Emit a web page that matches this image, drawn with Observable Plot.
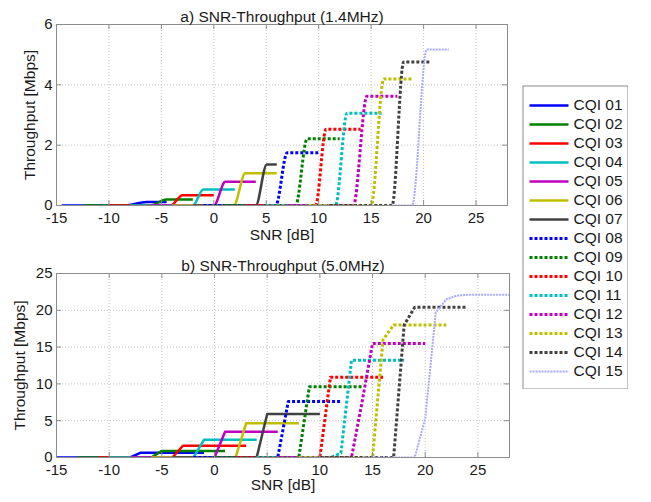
<!DOCTYPE html>
<html><head><meta charset="utf-8">
<script src="https://cdn.jsdelivr.net/npm/d3@7"></script>
<script src="https://cdn.jsdelivr.net/npm/@observablehq/plot@0.6"></script>
<style>
html,body{margin:0;padding:0;background:#fff;}
body{width:651px;height:502px;position:relative;overflow:hidden;font-family:"Liberation Sans",Arial,sans-serif;}
#top,#bot,#leg{position:absolute;}
#top{left:0;top:0}
#bot{left:0;top:248px}
#leg{left:522px;top:85px}
</style></head><body>
<div id="top"></div><div id="bot"></div><div id="leg"></div>
<script>
const cqiNames = ["CQI 01","CQI 02","CQI 03","CQI 04","CQI 05","CQI 06","CQI 07","CQI 08","CQI 09","CQI 10","CQI 11","CQI 12","CQI 13","CQI 14","CQI 15"];
const cqiColors = ["#0000ff","#008000","#ff0000","#00bfbf","#bf00bf","#bfbf00","#404040","#0000ff","#008000","#ff0000","#00bfbf","#bf00bf","#bfbf00","#404040","#a8a8ff"];
const xTicks = [-15,-10,-5,0,5,10,15,20,25];
const yTicks14 = [0,2,4,6];
const yTicks50 = [0,5,10,15,20,25];
const titles = ["a) SNR-Throughput (1.4MHz)", "b) SNR-Throughput (5.0MHz)"];
const xLabel = "SNR [dB]";
const yLabel = "Throughput [Mbps]";

// 1.4 MHz: SNR [dB] points and throughput [Mbps] per CQI
const snr14 = [
  [-14.5,-8.5,-6.4,-4.5],
  [-12.5,-6.1,-4.5,-2],
  [-10,-4.1,-3,0],
  [-8,-2,-1,2],
  [-6,0,1.1,4],
  [-4,1.9,3,6],
  [-2,4,5.05,6],
  [-1,5.9,7,10],
  [1,7.8,8.9,12],
  [3,9.7,10.7,14],
  [5,11.6,12.7,16],
  [7,13.3,14.6,17.5],
  [9,15,16.2,19],
  [11,17,18.1,20.7],
  [17,18.9,20.3,22.4]
];
const thr14 = [
  [0,0,0.12,0.12],
  [0,0,0.2,0.2],
  [0,0,0.34,0.34],
  [0,0,0.53,0.53],
  [0,0,0.79,0.79],
  [0,0,1.07,1.07],
  [0,0,1.36,1.36],
  [0,0,1.75,1.75],
  [0,0,2.21,2.21],
  [0,0,2.53,2.53],
  [0,0,3.06,3.06],
  [0,0,3.62,3.62],
  [0,0,4.19,4.19],
  [0,0,4.76,4.76],
  [0,0,5.17,5.17]
];

// 5.0 MHz
const snr50 = [
  [-15,-8,-7,-1],
  [-13,-6,-5,1],
  [-11,-4,-3,3],
  [-10,-2,-1,4],
  [-8,0,1,6],
  [-6,2,3,8],
  [-4,4,5,10],
  [-2,6,7,12],
  [0,8,9,14],
  [2,10,11,16],
  [4,11,12,13,18],
  [6,13,14,15,20],
  [8,15,16,17,22],
  [10,17,18,19,24],
  [14,19,20,21,22,23,24,28]
];
const thr50 = [
  [0,0,0.65,0.65],
  [0,0,0.9,0.9],
  [0,0,1.6,1.6],
  [0,0,2.4,2.4],
  [0,0,3.5,3.5],
  [0,0,4.65,4.65],
  [0,0,5.9,5.9],
  [0,0,7.6,7.6],
  [0,0,9.6,9.6],
  [0,0,10.9,10.9],
  [0,0,0.6,13.2,13.2],
  [0,0,7.5,15.5,15.5],
  [0,0,16,18,18],
  [0,0,18,20.4,20.4],
  [0,0,5.3,19.7,21.5,22,22.1,22.1]
];

const FONT = '"Liberation Sans", Arial, Helvetica, sans-serif';
const AX = "#8c8c8c";
const styles = [
  {strokeWidth: 2.5, strokeLinecap: "butt"},
  {strokeWidth: 3, strokeDasharray: "3,2", strokeLinecap: "butt"},
  {strokeWidth: 2, strokeDasharray: "2,1", strokeLinecap: "butt"}
];
const groupOf = i => i < 7 ? 0 : (i < 14 ? 1 : 2);

function makeChart(snr, thr, yDomain, yTicks, title, o) {
  const rows = [];
  snr.forEach((xs, i) => xs.forEach((x, j) => rows.push({cqi: cqiNames[i], idx: i, snr: x, thr: thr[i][j]})));
  const ih = o.height - o.mt - o.mb, iw = o.width - o.ml - o.mr;
  const lines = [0,1,2].map(g => Plot.line(rows.filter(d => groupOf(d.idx) === g),
    {x: "snr", y: "thr", z: "cqi", stroke: "cqi", curve: o.curve, clip: true, ...styles[g]}));
  return Plot.plot({
    width: o.width, height: o.height,
    marginTop: o.mt, marginBottom: o.mb, marginLeft: o.ml, marginRight: o.mr,
    style: {fontFamily: FONT, fontSize: "15px", color: "#1a1a1a", background: "#fff", overflow: "visible"},
    x: {domain: [-15, 28]},
    y: {domain: yDomain},
    color: {type: "ordinal", domain: cqiNames, range: cqiColors},
    marks: [
      Plot.gridX(xTicks, {stroke: "#c4c4c4", strokeOpacity: 1, strokeDasharray: "1,2"}),
      Plot.gridY(yTicks, {stroke: "#c4c4c4", strokeOpacity: 1, strokeDasharray: "1,2"}),
      ...lines,
      Plot.frame({stroke: AX}),
      Plot.ruleX(xTicks, {stroke: AX, insetTop: ih - 5}),
      Plot.ruleX(xTicks, {stroke: AX, insetBottom: ih - 5}),
      Plot.ruleY(yTicks, {stroke: AX, insetRight: iw - 5}),
      Plot.ruleY(yTicks, {stroke: AX, insetLeft: iw - 5}),
      Plot.axisX(xTicks, {tickSize: 0, tickPadding: 7, label: null, tickFormat: d => String(d)}),
      Plot.axisY(yTicks, {tickSize: 0, tickPadding: 4, label: null, tickFormat: d => String(d)}),
      Plot.text([title], {text: d => d, frameAnchor: "top", dy: -14, fontSize: 15.5}),
      Plot.text([xLabel], {text: d => d, frameAnchor: "bottom", dy: o.xlabDy, fontSize: 15.5}),
      Plot.text([yLabel], {text: d => d, frameAnchor: "left", textAnchor: "middle", rotate: -90, dx: o.ylabDx, fontSize: 15.5})
    ]
  });
}

document.getElementById("top").append(makeChart(snr14, thr14, [0, 6], yTicks14, titles[0],
  {width: 520, height: 250, mt: 24, mb: 45, ml: 56, mr: 13, curve: "monotone-x", xlabDy: 34, ylabDx: -26}));
document.getElementById("bot").append(makeChart(snr50, thr50, [0, 25], yTicks50, titles[1],
  {width: 520, height: 254, mt: 25, mb: 45, ml: 56, mr: 11, curve: "linear", xlabDy: 32, ylabDx: -36}));

const legendMarks = [0,1,2].map(g => Plot.link(cqiNames.filter((d, i) => groupOf(i) === g),
  {x1: () => 0, x2: () => 1, y1: d => d, y2: d => d, stroke: d => d, ...styles[g]}));
document.getElementById("leg").append(Plot.plot({
  width: 106, height: 304, margin: 0,
  style: {fontFamily: FONT, fontSize: "15.5px", color: "#1a1a1a", background: "#fff"},
  x: {domain: [0, 1], range: [7, 46], axis: null},
  y: {type: "point", domain: cqiNames, range: [13, 292], padding: 0, axis: null},
  color: {type: "ordinal", domain: cqiNames, range: cqiColors},
  marks: [
    Plot.frame({stroke: AX, inset: 0.5}),
    ...legendMarks,
    Plot.text(cqiNames, {x: () => 1, y: d => d, text: d => d, dx: 5, textAnchor: "start", fill: "#1a1a1a"})
  ]
}));
</script></body></html>
